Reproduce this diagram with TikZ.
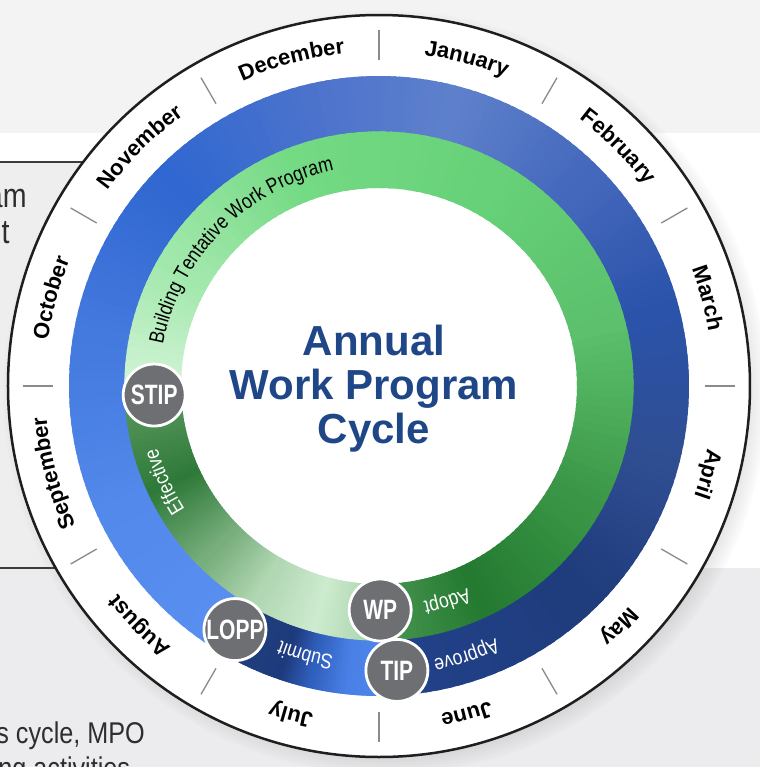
\documentclass[tikz,border=0pt]{standalone}
\usepackage{fontspec}
\setmainfont{Liberation Sans}
\setsansfont{Liberation Sans}
\newfontfamily\narrowfont[FakeStretch=0.84]{Liberation Sans}
\newfontfamily\badgefont[FakeStretch=0.75]{Liberation Sans}
\usetikzlibrary{shadows,fadings,decorations.text}

\definecolor{bandgray}{HTML}{F3F3F3}
\definecolor{boxgray}{HTML}{EEEEEE}
\definecolor{boxline}{HTML}{3C3C3C}
\definecolor{lowgray}{HTML}{ECECEE}
\definecolor{tickgray}{HTML}{8A8A8A}
\definecolor{rimblack}{HTML}{1E1E1E}
\definecolor{badgegray}{HTML}{6D6F72}
\definecolor{titleblue}{HTML}{1F4788}
\definecolor{pagetext}{HTML}{2E2E2E}

\newcommand\monthfont{\sffamily\bfseries\fontsize{11}{12}\selectfont}
\newcommand\ringfont{\narrowfont\fontsize{10.5}{12}\selectfont}

% ring piece from #3 to #4 (degrees), radii #1..#2, colour #5 -> #6
\newcommand\gradarc[6]{%
  \edef\gradtmp{\noexpand\definecolor{gradfrom}{HTML}{#5}\noexpand\definecolor{gradto}{HTML}{#6}}\gradtmp
  \foreach \k in {0,...,19}{%
    \pgfmathsetmacro\ga{#3+(#4-#3)*\k/20}%
    \pgfmathsetmacro\gb{#3+(#4-#3)*min(\k+1.6,20.4)/20}%
    \pgfmathtruncatemacro\gp{100-100*\k/19}%
    \fill[gradfrom!\gp!gradto] (\ga:#1) arc[start angle=\ga, end angle=\gb, radius=#1]
      -- (\gb:#2) arc[start angle=\gb, end angle=\ga, radius=#2] -- cycle;
  }}

\begin{document}
\begin{tikzpicture}[x=0.5pt, y=0.5pt,
    monthtick/.style={draw=tickgray, line width=0.65pt},
    badge/.style={circle, fill=badgegray, draw=white, line width=1.4pt,
      minimum size=31pt, inner sep=0pt, text=white,
      font=\badgefont\bfseries\fontsize{14}{14}\selectfont},
    monthlabel/.style={decorate, decoration={text along path,
      text align=center, text={|\monthfont|#1}}},
    ringlabel/.style 2 args={decorate, decoration={text along path,
      text align=center, text color=#1, text={|\ringfont|#2}}},
    cycletitle/.style={align=center, text=titleblue, inner sep=0pt,
      font=\sffamily\bfseries\fontsize{21}{22}\selectfont},
    pagefont/.style={text=pagetext, inner sep=0pt}]
  \useasboundingbox (-379,-381) rectangle (381,386);
  \clip (-379,-381) rectangle (381,386);

  % page behind the wheel
  \fill[white] (-379,-381) rectangle (381,386);
  \fill[bandgray] (-379,253) rectangle (381,386);
  \fill[boxgray] (-390,224) rectangle (0,-182);
  \fill[lowgray] (-379,-182) rectangle (381,-381);
  \draw[boxline, line width=0.8pt] (-390,224) -- (0,224);
  \draw[boxline, line width=0.8pt] (-390,-182) -- (0,-182);
  \node[pagefont, anchor=base east, font=\narrowfont\fontsize{17}{18}\selectfont] (boxa) at (-352,179) {am};
  \node[pagefont, anchor=base east, font=\narrowfont\fontsize{17}{18}\selectfont] (boxb) at (-369,143) {t};
  \node[pagefont, anchor=base west, font=\narrowfont\fontsize{15}{16}\selectfont] (lowa) at (-383,-357) {s cycle, MPO};
  \node[pagefont, anchor=base west, font=\narrowfont\fontsize{15}{16}\selectfont] (lowb) at (-381,-392) {ng activities};

  % wheel
  \fill[white, circular drop shadow={shadow xshift=3pt, shadow yshift=-3pt,
    shadow scale=1.03, opacity=0.55}] (0,0) circle[radius=371];
  \draw[rimblack, line width=1.25pt] (0,0) circle[radius=371];
  \foreach \a in {0,30,...,330}
    \draw[monthtick] (\a:326) -- (\a:356);

  % blue ring
  \foreach \ra/\rb/\ca/\cb in {239.5/205/5A8FF2/5289EA, 205/170/5289EA/4479DE,
      170/135/4479DE/3067D0, 135/100/3067D0/4E74CC, 100/75/4E74CC/5E80CC,
      75/45/5E80CC/4468BC, 45/15/4468BC/2B53AA, 15/-15/2B53AA/2F4E92,
      -15/-45/2F4E92/1F3C7C, -45/-86.5/1F3C7C/21418A,
      273.5/264/5088EC/4A80E6, 264/257/4A80E6/3060BE,
      257/251/3060BE/1D3A7C, 251/239.5/1D3A7C/22407F}
    \gradarc{254}{310}{\ra}{\rb}{\ca}{\cb};

  % green ring
  \foreach \ra/\rb/\ca/\cb in {182/150/D4F4D8/A2E8AC, 150/110/A2E8AC/74DA84,
      110/60/74DA84/66D178, 60/15/66D178/5CC06C, 15/-30/5CC06C/3A9646,
      -30/-65/3A9646/247A31, -65/-90/247A31/4A9652,
      270/255/A6D2AA/CDEBCF, 255/240/CDEBCF/B0D6B2, 240/225/B0D6B2/78AE7C,
      225/205/78AE7C/2F7A3A, 205/182/2F7A3A/58975E}
    \gradarc{198}{254.6}{\ra}{\rb}{\ca}{\cb};

  % milestones
  \node[badge] (stip) at (182.3:225) {STIP};
  \node[badge] (lopp) at (239.4:283) {LOPP};
  \node[badge] (wp) at (270.3:224) {WP};
  \node[badge] (tip) at (273.6:285) {TIP};

  % ring texts
  \path[ringlabel={black}{Building Tentative Work Program}]
    (175:220) arc[start angle=175, end angle=96, radius=220];
  \path[ringlabel={white}{Effective}]
    (222:230) arc[start angle=222, end angle=186, radius=230];
  \path[ringlabel={white}{Adopt}]
    (302.6:220.5) arc[start angle=302.6, end angle=272.6, radius=220.5];
  \path[ringlabel={white}{Approve}]
    (303:278.5) arc[start angle=303, end angle=273, radius=278.5];
  \path[ringlabel={white}{Submit}]
    (266:273.5) arc[start angle=266, end angle=243.4, radius=273.5];

  % months
  \foreach \m [count=\i] in {January,February,March,April,May,June,July,
      August,September,October,November,December}{
    \pgfmathsetmacro\ma{105-30*\i}
    \path[monthlabel/.expand once=\m]
      (\ma+25:334) arc[start angle=\ma+25, end angle=\ma-25, radius=334];
  }

  \node[cycletitle] (title) at (-5,-3) {Annual\\Work Program\\Cycle};
\end{tikzpicture}
\end{document}
